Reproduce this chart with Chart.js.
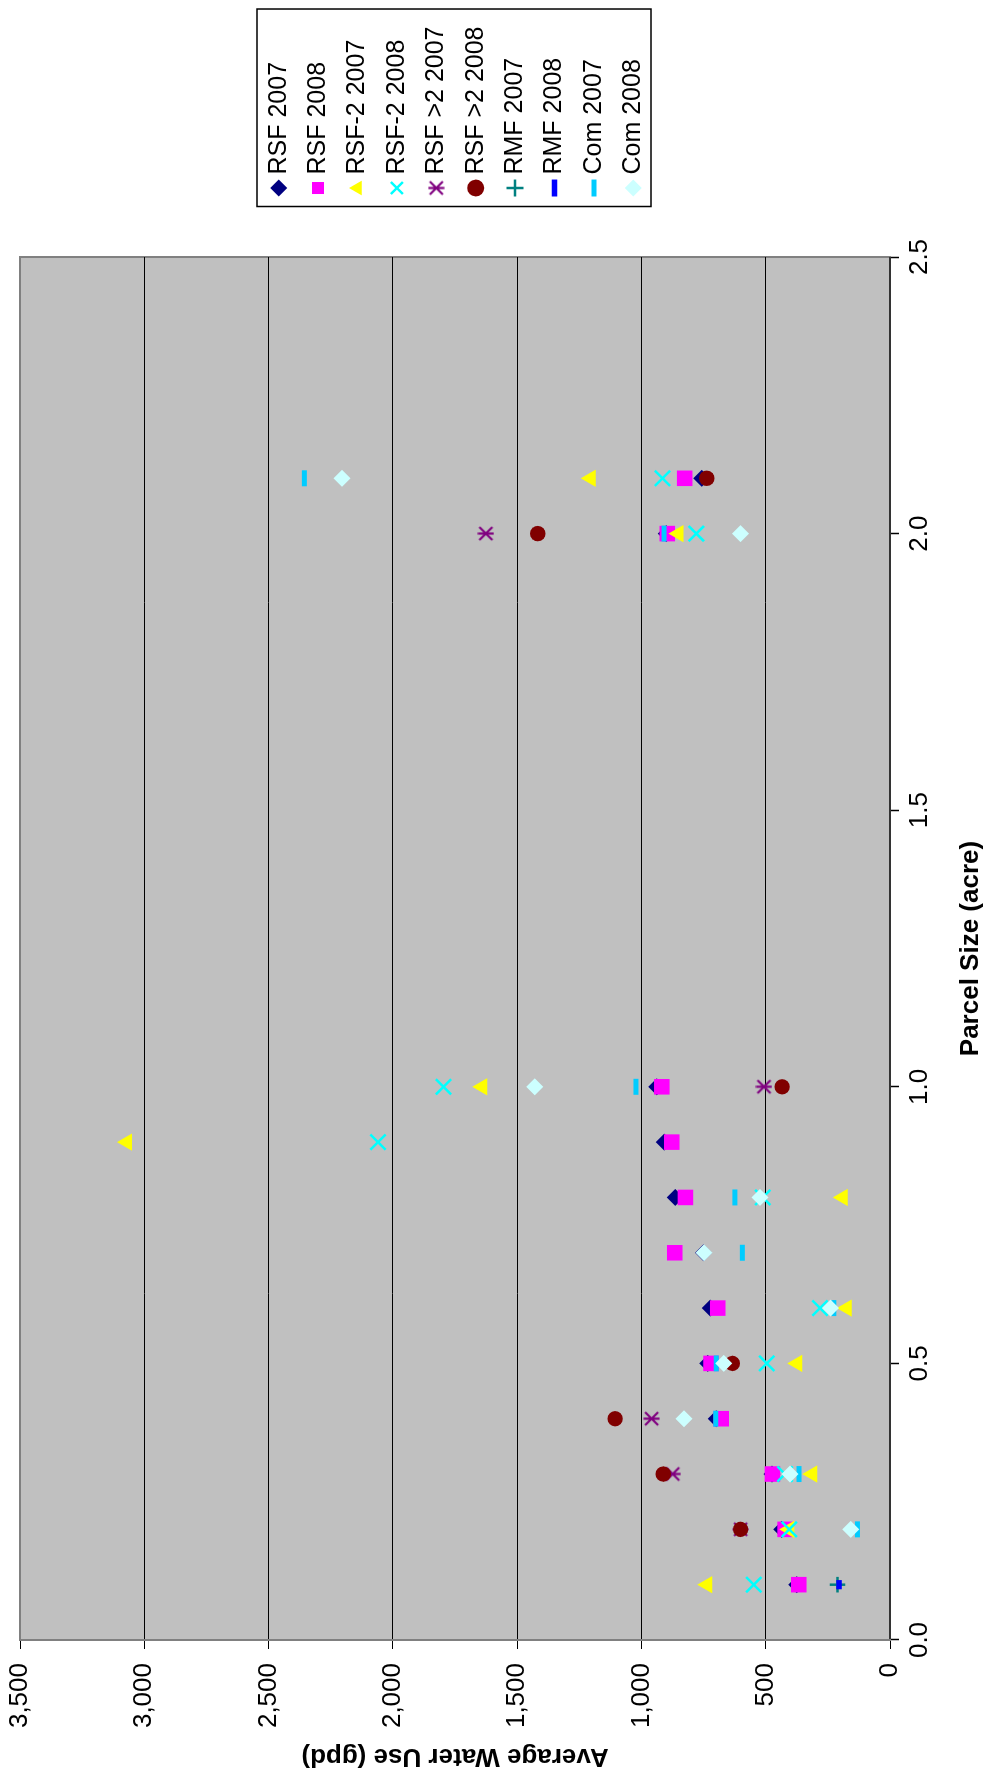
<!DOCTYPE html>
<html>
<head>
<meta charset="utf-8">
<script src="https://cdn.jsdelivr.net/npm/chart.js@4.4.0/dist/chart.umd.min.js"></script>
<style>
html,body{margin:0;padding:0;background:#fff;width:995px;height:1775px;overflow:hidden;}
#wrap{position:absolute;left:0;top:0;width:1775px;height:995px;transform-origin:0 0;transform:translateY(1775px) rotate(-90deg);}
</style>
</head>
<body>
<div id="wrap"><canvas id="c" width="1775" height="995"></canvas></div>
<script>
// ---- data ----
const parcelSizes = [0.1, 0.2, 0.3, 0.4, 0.5, 0.6, 0.7, 0.8, 0.9, 1.0, 2.0, 2.1];
const seriesNames = ['RSF 2007','RSF 2008','RSF-2 2007','RSF-2 2008','RSF >2 2007','RSF >2 2008','RMF 2007','RMF 2008','Com 2007','Com 2008'];
const rsf2007     = [375, 435, 475, 699, 733, 723, 750, 864, 908, 938, 900, 757];
const rsf2008     = [367, 422, 473, 679, 720, 693, 866, 823, 878, 918, 896, 826];
const rsf2_2007   = [735, 405, 313, null, 373, 174, null, 190, 3070, 1640, 851, 1204];
const rsf2_2008   = [548, 405, 422, null, 496, 282, null, 512, 2060, 1796, 779, 915];
const rsfGt2_2007 = [null, 601, 874, 959, null, null, null, null, null, 507, 1626, null];
const rsfGt2_2008 = [null, 601, 912, 1106, 634, null, null, null, null, 434, 1417, 737];
const rmf2007     = [211, null, null, null, null, null, null, null, null, null, null, null];
const rmf2008     = [205, null, null, null, null, null, null, null, null, null, null, null];
const com2007     = [null, 131, 366, 701, 699, 226, 594, 624, null, 1022, 909, 2356];
const com2008     = [null, 158, 402, 829, 669, 239, 748, 523, null, 1429, 601, 2205];
const parcelAxis = {min: 0, max: 2.5, step: 0.5};
const waterAxis  = {min: 0, max: 3500, step: 500};
const xTitle = 'Parcel Size (acre)';
const yTitle = 'Average Water Use (gpd)';

// ---- styling ----
const FONT = "'Liberation Sans', Arial, sans-serif";
function makeStar(color){
  const c = document.createElement('canvas');
  c.width = 17; c.height = 17;
  const g = c.getContext('2d');
  g.strokeStyle = color; g.lineWidth = 2.2;
  g.beginPath();
  g.moveTo(2,2); g.lineTo(15,15);
  g.moveTo(15,2); g.lineTo(2,15);
  g.moveTo(8.5,0.5); g.lineTo(8.5,16.5);
  g.stroke();
  return c;
}
const styles = [
  {ps:'rectRot',  bg:'#000080', bc:'#000080', r:8.5, bw:0},
  {ps:'rect',     bg:'#FF00FF', bc:'#FF00FF', r:11,  bw:0},
  {ps:'triangle', bg:'#FFFF00', bc:'#FFFF00', r:10,  bw:0},
  {ps:'crossRot', bg:'#00FFFF', bc:'#00FFFF', r:10.8,bw:2.5},
  {ps:makeStar('#800080'), bg:'#800080', bc:'#800080', r:8.5, bw:0},
  {ps:'circle',   bg:'#800000', bc:'#800000', r:7.7, bw:0},
  {ps:'cross',    bg:'#008080', bc:'#008080', r:7.8, bw:2.5},
  {ps:'line',     bg:'#0000FF', bc:'#0000FF', r:4.6, bw:5.5},
  {ps:'line',     bg:'#00CCFF', bc:'#00CCFF', r:8,   bw:5},
  {ps:'rectRot',  bg:'#CCFFFF', bc:'#CCFFFF', r:8.5, bw:0}
];
const allValues = [rsf2007, rsf2008, rsf2_2007, rsf2_2008, rsfGt2_2007, rsfGt2_2008, rmf2007, rmf2008, com2007, com2008];
function pts(vals){
  const out = [];
  parcelSizes.forEach((x,i)=>{ if (vals[i] != null) out.push({x:x, y:vals[i]}); });
  return out;
}
const datasets = allValues.map((vals,i)=>({
  label: seriesNames[i],
  data: pts(vals),
  order: -i,
  showLine: false,
  pointStyle: styles[i].ps,
  pointRadius: styles[i].r,
  pointHoverRadius: styles[i].r,
  pointBackgroundColor: styles[i].bg,
  pointBorderColor: styles[i].bc,
  pointBorderWidth: styles[i].bw,
  backgroundColor: styles[i].bg,
  borderColor: styles[i].bc,
  borderWidth: styles[i].bw
}));

const framePlugin = {
  id: 'frame',
  beforeDraw(chart){
    const {ctx, chartArea:a} = chart;
    ctx.save();
    ctx.fillStyle = '#fff';
    ctx.fillRect(0,0,chart.width,chart.height);
    ctx.fillStyle = '#C0C0C0';
    ctx.fillRect(a.left, a.top, a.right-a.left, a.bottom-a.top);
    ctx.strokeStyle = '#808080';
    ctx.lineWidth = 2;
    ctx.strokeRect(a.left, a.top, a.right-a.left, a.bottom-a.top);
    const lg = chart.legend;
    if (lg && lg.legendHitBoxes && lg.legendHitBoxes.length){
      const hb = lg.legendHitBoxes[0];
      const bx = hb.left - 17.5, by = hb.top - 9.2;
      ctx.fillStyle = '#fff';
      ctx.fillRect(bx, by, 197.5, 394);
      ctx.strokeStyle = '#000';
      ctx.lineWidth = 1.5;
      ctx.strokeRect(bx, by, 197.5, 394);
    }
    ctx.restore();
  }
};

new Chart(document.getElementById('c'), {
  type: 'scatter',
  data: {datasets},
  plugins: [framePlugin],
  options: {
    responsive: false,
    animation: false,
    events: [],
    layout: {padding: {top: 20, right: 16.5, bottom: 0, left: 0}},
    plugins: {
      tooltip: {enabled: false},
      legend: {
        position: 'right',
        align: 'start',
        reverse: true,
        title: {display: true, text: ' ', font: {size: 1}, padding: {top: 230.6, bottom: 0}},
        labels: {usePointStyle: true, boxWidth: 2, boxHeight: 12, padding: 14.4, color: '#000',
                 font: {family: FONT, size: 25}}
      }
    },
    scales: {
      x: {
        type: 'linear', position: 'bottom',
        min: parcelAxis.min, max: parcelAxis.max,
        ticks: {stepSize: parcelAxis.step, callback: v => Number(v).toFixed(1), color: '#000',
                font: {family: FONT, size: 26}, padding: 5, maxRotation: 0},
        grid: {drawOnChartArea: false, drawTicks: true, tickLength: 9, tickColor: '#000', tickWidth: 1.5},
        border: {color: '#333', width: 2},
        title: {display: true, text: xTitle, color: '#000', font: {family: FONT, size: 26, weight: 'bold'},
                padding: {top: 0, bottom: 8.4}},
        afterFit: s => { s.height = 105; s.paddingLeft = 0; s.paddingRight = 0; }
      },
      y: {
        type: 'linear', position: 'left',
        min: waterAxis.min, max: waterAxis.max,
        ticks: {stepSize: waterAxis.step, callback: v => Number(v).toLocaleString('en-US'), color: '#000',
                font: {family: FONT, size: 26}, padding: 14},
        grid: {color: c => (c.tick && c.tick.value === waterAxis.max) ? '#808080' : '#000', lineWidth: 1,
               drawTicks: true, tickLength: 9, tickColor: '#000'},
        border: {color: '#808080', width: 2},
        title: {display: true, text: yTitle, color: '#000', font: {family: FONT, size: 26, weight: 'bold'},
                padding: {top: 3.4, bottom: 0}},
        afterFit: s => { s.width = 135; s.paddingTop = 0; s.paddingBottom = 0; }
      },
      spacer: {
        type: 'linear', position: 'right', display: true,
        grid: {display: false, drawTicks: false}, border: {display: false},
        ticks: {display: false},
        afterFit: s => { s.width = 53.6; s.paddingTop = 0; s.paddingBottom = 0; }
      }
    }
  }
});
</script>
</body>
</html>
